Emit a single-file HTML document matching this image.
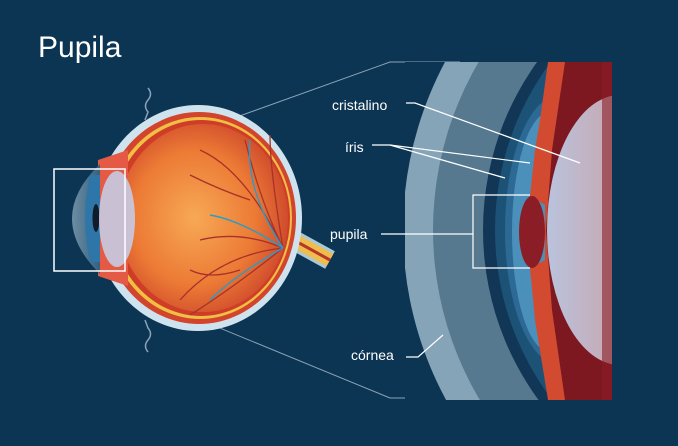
<!DOCTYPE html>
<html><head><meta charset="utf-8"><style>
html,body{margin:0;padding:0;background:#0c3553;width:678px;height:446px;overflow:hidden}
svg{display:block}
text{font-family:"Liberation Sans",sans-serif;fill:#fff}
</style></head><body>
<svg width="678" height="446" viewBox="0 0 678 446" xmlns="http://www.w3.org/2000/svg">
<defs>
<radialGradient id="inner" cx="0.45" cy="0.5" r="0.6">
<stop offset="0" stop-color="#f7a955"/><stop offset="0.6" stop-color="#ec7a35"/><stop offset="1" stop-color="#c9402a"/>
</radialGradient>
<linearGradient id="lens" x1="0" x2="1">
<stop offset="0" stop-color="#b9c3dd"/><stop offset="1" stop-color="#d78a80"/>
</linearGradient>
<linearGradient id="corn" x1="0" x2="1">
<stop offset="0" stop-color="#6d8ea4"/><stop offset="1" stop-color="#36607e"/>
</linearGradient>
<clipPath id="zc"><rect x="405" y="62" width="207" height="338"/></clipPath>
</defs>
<rect width="678" height="446" fill="#0c3553"/>
<text x="38" y="57" font-size="30">Pupila</text>

<!-- connector lines -->
<line x1="117" y1="160" x2="390" y2="62" stroke="#8aa3b8" stroke-width="1"/>
<line x1="390" y1="62" x2="460" y2="62" stroke="#8aa3b8" stroke-width="1"/>
<line x1="120" y1="287" x2="390" y2="398" stroke="#8aa3b8" stroke-width="1"/>
<line x1="390" y1="398" x2="470" y2="398" stroke="#8aa3b8" stroke-width="1"/>

<!-- left eye -->
<path d="M148 88 q5 6 0 12 q-5 6 0 12 l-3 8" stroke="#8aa3b8" fill="none" stroke-width="1.5"/>
<path d="M145 320 l3 8 q5 6 0 12 q-5 6 0 12" stroke="#8aa3b8" fill="none" stroke-width="1.5"/>
<path d="M290 238 L330 260" stroke="#a9c8da" stroke-width="20" fill="none"/>
<path d="M290 238 L330 260" stroke="#eebd4b" stroke-width="14" fill="none"/>
<path d="M290 238 L330 260" stroke="#b8352a" stroke-width="3" fill="none"/>
<ellipse cx="198" cy="218" rx="104" ry="113" fill="#cfe3ee"/>
<ellipse cx="199" cy="218" rx="97" ry="106" fill="#d2452c"/>
<ellipse cx="200" cy="218" rx="92" ry="101" fill="#f0c044"/>
<ellipse cx="201" cy="218" rx="89" ry="98" fill="#cf3d29"/>
<ellipse cx="203" cy="218" rx="85" ry="94" fill="url(#inner)"/>
<path d="M98 160 L128 150 L128 286 L98 276 Z" fill="#e45a45"/>
<path d="M100 164 Q44 218 100 274 Z" fill="url(#corn)"/>
<path d="M90 175 Q80 218 90 262 L100 262 L100 175 Z" fill="#2f76a8"/>
<ellipse cx="96" cy="218" rx="3.5" ry="14" fill="#101c2a"/>
<ellipse cx="117" cy="219" rx="18" ry="48" fill="#c7c9df" opacity="0.92"/>
<g stroke="#a8322a" stroke-width="1.3" fill="none">
<path d="M283 248 Q260 200 245 140"/><path d="M283 248 Q245 170 200 150"/>
<path d="M283 248 Q220 255 180 300"/><path d="M283 248 Q230 290 190 315"/>
<path d="M283 248 Q270 170 270 135"/><path d="M250 200 Q220 190 190 175"/>
<path d="M283 248 Q240 230 200 240"/><path d="M240 270 Q210 280 190 270"/>
</g>
<g stroke="#2a9cc8" stroke-width="1.4" fill="none">
<path d="M283 248 Q245 190 250 140"/><path d="M283 248 Q235 275 210 300"/><path d="M283 248 Q240 220 210 215"/>
</g>
<rect x="54" y="169" width="71" height="102" fill="none" stroke="#fff" stroke-width="1.5"/>

<!-- zoom view -->
<g clip-path="url(#zc)">
<rect x="405" y="62" width="207" height="338" fill="#0c3553"/>
<circle cx="760" cy="230" r="357" fill="#86a4b8"/>
<circle cx="765" cy="230" r="332" fill="#56798f"/>
<circle cx="771" cy="230" r="288" fill="#123655"/>
<circle cx="776" cy="230" r="281" fill="#1d5277"/>
<ellipse cx="560" cy="230" rx="55" ry="135" fill="#2c6a95"/>
<ellipse cx="550" cy="232" rx="38" ry="120" fill="#4b8fbb"/>
<path d="M548 62 L540 120 L535 150 L530 196 L545 205 L545 260 L530 268 L535 320 L548 400 L612 400 L612 62 Z" fill="#d24b30"/>
<path d="M565 62 L552 150 L546 230 L552 310 L565 400 L612 400 L612 62 Z" fill="#7d1821"/>
<ellipse cx="532" cy="232" rx="13" ry="36" fill="#8a1d26"/>
<ellipse cx="620" cy="230" rx="73" ry="135" fill="url(#lens)"/>
</g>
<rect x="602" y="62" width="10" height="338" fill="#8a1d26" opacity="0.6"/>

<!-- labels -->
<g stroke="#fff" stroke-width="1.2" fill="none">
<polyline points="406,103 415,103 580,163"/>
<polyline points="372,145 390,145 530,163"/>
<line x1="390" y1="145" x2="505" y2="178"/>
<line x1="381" y1="234" x2="473" y2="234"/>
<polyline points="530,195 473,195 473,268 530,268"/>
<polyline points="406,357 418,357 443,335"/>
</g>
<text x="332" y="110" font-size="14">cristalino</text>
<text x="345" y="152" font-size="14">íris</text>
<text x="330" y="239" font-size="14">pupila</text>
<text x="351" y="360" font-size="14">córnea</text>
</svg>
</body></html>
